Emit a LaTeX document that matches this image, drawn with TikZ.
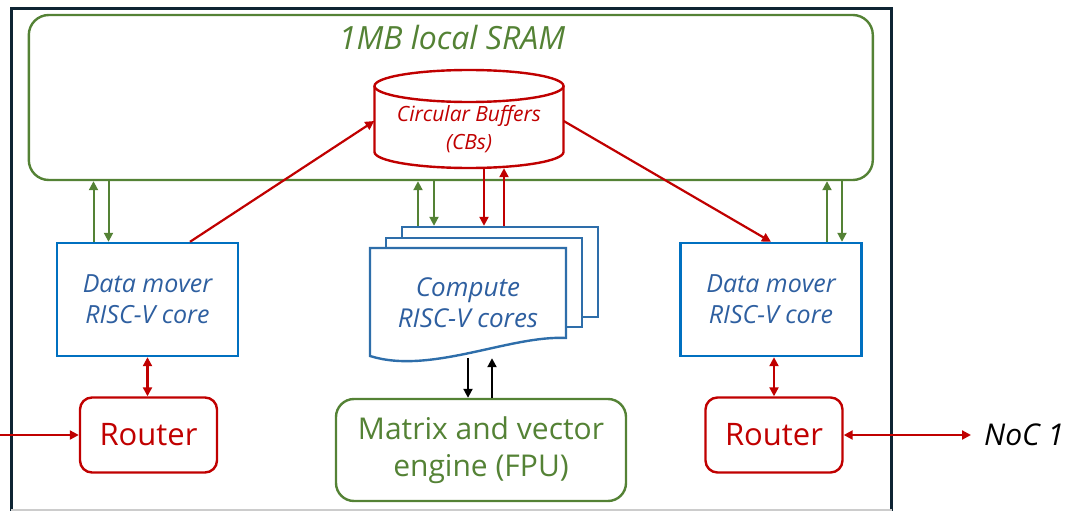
\documentclass[tikz,border=0pt]{standalone}
\usepackage{fontspec}
\setmainfont{Open Sans}
\usetikzlibrary{positioning,shapes.geometric,arrows.meta}
\definecolor{sramgreen}{RGB}{84,130,53}
\definecolor{cbred}{RGB}{192,0,0}
\definecolor{moverblue}{RGB}{0,112,192}
\definecolor{movertext}{RGB}{46,95,160}
\definecolor{pageblue}{RGB}{46,110,170}
\definecolor{framenavy}{RGB}{14,36,51}

\begin{document}
\begin{tikzpicture}[x=1pt,y=-1pt]
            \tikzstyle{mover}=[rectangle, draw=moverblue, line width=2.4pt, minimum width=181pt, minimum height=113pt, align=center, text=movertext, font=\fontsize{25}{31}\selectfont\itshape]
            \tikzstyle{router}=[rectangle, rounded corners=12pt, draw=cbred, line width=2.4pt, minimum width=137pt, minimum height=75pt, text=cbred, font=\fontsize{31}{34}\selectfont]
            \tikzstyle{page}=[rectangle, draw=pageblue, fill=white, line width=2.4pt, minimum width=196pt]
            \tikzstyle{garrow}=[draw=sramgreen, line width=2pt, -{Triangle[length=9pt,width=9pt]}]
            \tikzstyle{rarrow}=[draw=cbred, line width=2.2pt, -{Triangle[length=9pt,width=9pt]}]
            \tikzstyle{barrow}=[draw=black, line width=2pt, -{Triangle[length=9pt,width=9pt]}]
            \tikzstyle{biarrow}=[draw=cbred, line width=2.2pt, {Triangle[length=9pt,width=9pt]}-{Triangle[length=9pt,width=9pt]}]
            \useasboundingbox (0,0) rectangle (1071,511);
            \draw[line width=3pt, framenavy] (11.4,511) -- (11.4,9) -- (891.6,9) -- (891.6,511);
            \draw[line width=1.5pt, black!20] (11.4,510) -- (891.6,510);
            \node[rectangle, rounded corners=20pt, draw=sramgreen, line width=2.4pt, minimum width=844pt, minimum height=165pt] (SRAM) at (450.8,97.5){};
            \node[text=sramgreen, font=\fontsize{32}{36}\selectfont\itshape] (T) at (452,38){1MB local SRAM};
            % circular buffer drum
            \draw[draw=cbred, fill=white, line width=2.4pt] (374.5,86) -- (374.5,152) arc[start angle=180, end angle=0, x radius=94.5, y radius=16] -- (563.5,86);
            \draw[draw=cbred, line width=2.4pt] (469,86) ellipse [x radius=94.5, y radius=16];
            \node[minimum width=189pt, minimum height=78pt, align=center, text=cbred, font=\fontsize{21}{28}\selectfont\itshape] (CB) at (469,129){Circular Buffers\\(CBs)};
            \node[mover] (DML) at (147.5,299.5){Data mover\\RISC-V core};
            \node[mover] (DMR) at (771,299.5){Data mover\\RISC-V core};
            % stacked compute pages
            \node[page, minimum height=90pt] (CPb) at (500,272){};
            \node[page, minimum height=89pt] (CPm) at (484,282.5){};
            \draw[draw=pageblue, fill=white, line width=2.4pt] (370,248) -- (566,248) -- (566,338) .. controls (510,335) and (430,375) .. (370,356) -- cycle;
            \node[minimum width=196pt, minimum height=110pt, align=center, text=movertext, font=\fontsize{26}{31}\selectfont\itshape] (CP) at (468,303){Compute\\RISC-V cores};
            \node[rectangle, rounded corners=18pt, draw=sramgreen, line width=2.4pt, minimum width=290pt, minimum height=102pt, align=center, text=sramgreen, font=\fontsize{30}{37}\selectfont] (FPU) at (481,450){Matrix and vector\\engine (FPU)};
            \node[router] (RL) at (148.5,435){Router};
            \node[router] (RR) at (774,435){Router};
            \node[anchor=west, inner sep=0pt, font=\fontsize{30}{34}\selectfont\itshape] (NoC) at (984,435){NoC 1};
            \coordinate (in) at (0,435);
            \path ([xshift=-54pt]DML.north) edge [garrow] ([xshift=-54pt]DML.north |- SRAM.south);
            \path ([xshift=-39pt]DML.north |- SRAM.south) edge [garrow] ([xshift=-39pt]DML.north);
            \path ([xshift=56pt]DMR.north) edge [garrow] ([xshift=56pt]DMR.north |- SRAM.south);
            \path ([xshift=71pt]DMR.north |- SRAM.south) edge [garrow] ([xshift=71pt]DMR.north);
            \path ([xshift=-82pt]CPb.north) edge [garrow] ([xshift=-82pt]CPb.north |- SRAM.south);
            \path ([xshift=-66pt]CPb.north |- SRAM.south) edge [garrow] ([xshift=-66pt]CPb.north);
            \path ([xshift=15pt]CB.south) edge [rarrow] ([xshift=15pt]CB.south |- CPb.north);
            \path ([xshift=35pt]CB.south |- CPb.north) edge [rarrow] ([xshift=35pt]CB.south);
            \path ([xshift=42.5pt]DML.north) edge [rarrow] ([yshift=8pt]CB.west);
            \path ([yshift=8pt]CB.east) edge [rarrow] (DMR.north);
            \path (CP.south) edge [barrow] (CP.south |- FPU.north);
            \path ([xshift=24pt]CP.south |- FPU.north) edge [barrow] ([xshift=24pt]CP.south);
            \path (DML.south) edge [biarrow] (DML.south |- RL.north);
            \path (RR.north |- DMR.south) edge [biarrow] (RR.north);
            \path (in) edge [rarrow] (RL.west);
            \path (RR.east) edge [biarrow, shorten >=13pt] (NoC.west);
        \end{tikzpicture}
\end{document}
